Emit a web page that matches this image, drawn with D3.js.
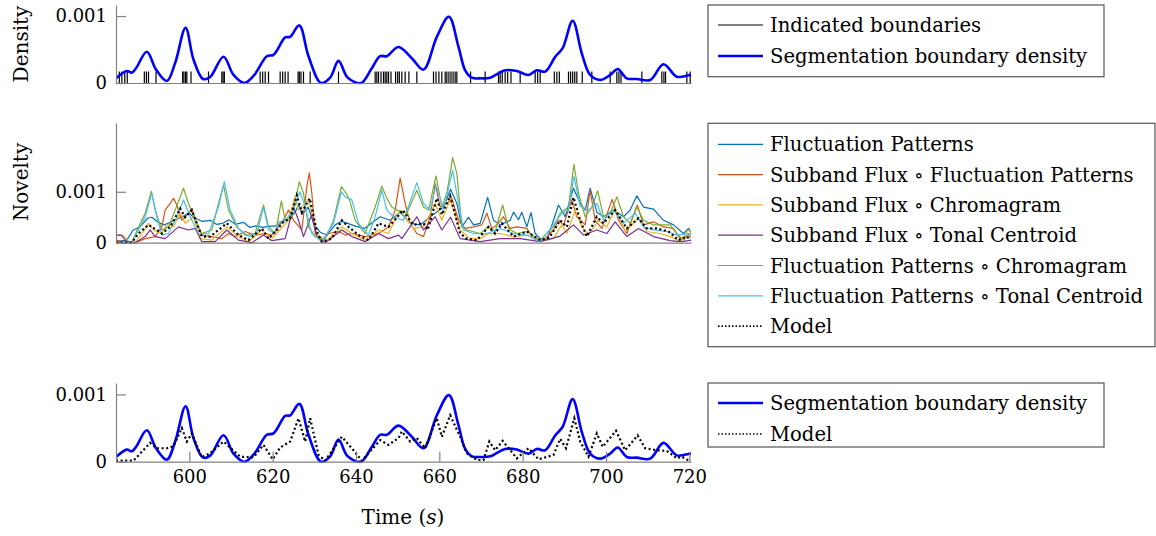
<!DOCTYPE html>
<html>
<head>
<meta charset="utf-8">
<script src="https://cdn.jsdelivr.net/npm/d3@7"></script>
<style>
  body { margin: 0; background: #fff; }
  svg text { font-family: "DejaVu Serif", serif; fill: #000; }
  .axis text { font-size: 18px; font-family: "DejaVu Serif", serif; fill: #000; }
  .legend text { font-size: 19.6px; }
</style>
</head>
<body>
<svg id="chart" width="1156" height="536"></svg>
<script>
// values are in units of 1e-3
var xTicks = [600, 620, 640, 660, 680, 700, 720];
var yTickValues = [0, 1];
var yTickLabels = ["0", "0.001"];

// indicated boundary times (s)
var boundaries = [583.2, 583.8, 584.5, 585.1, 589.2, 589.7, 590.2, 592.0, 598.4, 598.7, 599.1, 599.4,
  600.4, 604.6, 607.8, 608.1, 608.4, 617.0, 617.6, 618.2, 619.0, 621.8, 622.4, 623.0, 623.7,
  626.1, 626.4, 626.8, 627.4, 629.0, 635.8, 644.6, 645.0, 645.4, 646.0, 646.6, 647.0, 647.4,
  647.8, 648.4, 649.5, 650.0, 650.4, 651.0, 651.8, 652.7, 654.6, 658.6, 659.2, 659.9, 660.6,
  661.4, 661.8, 662.3, 662.8, 663.3, 663.8, 664.2, 667.5, 671.0, 674.2, 674.6, 675.1, 675.8,
  676.4, 677.2, 679.4, 683.0, 683.6, 684.2, 687.6, 688.2, 688.8, 691.0, 691.5, 692.0, 692.5,
  693.0, 694.3, 696.6, 701.0, 702.6, 703.1, 703.6, 708.6, 713.4, 713.9, 714.3, 719.4, 720.2];

// segmentation boundary density [time, value]
var density = [[582.4,0.07],[585.0,0.18],[586.2,0.155],[587.2,0.22],[589.8,0.467],[592,0.2],[594.6,0.03],
  [596.6,0.3],[599.1,0.825],[601,0.35],[603.3,0.06],[605,0.09],[608.2,0.393],[610.6,0.12],[613.2,0.0],
  [615.6,0.12],[618.6,0.4],[620.2,0.42],[623,0.68],[624.2,0.69],[626.4,0.86],[628.6,0.4],[631.6,0.0],
  [633.8,0.08],[635.8,0.33],[638,0.08],[641.2,0.0],[643.6,0.2],[645.8,0.40],[647.4,0.40],[650.2,0.537],
  [653.4,0.37],[656.2,0.2],[659.4,0.69],[662.3,0.99],[664.6,0.54],[666.2,0.19],[667.8,0.08],[670,0.07],
  [672.2,0.08],[675.8,0.19],[678.6,0.18],[681.4,0.12],[683.4,0.19],[685.4,0.17],[687.8,0.39],[689.6,0.52],
  [692.0,0.93],[694.2,0.44],[696.2,0.12],[698.6,0.045],[701,0.12],[702.8,0.21],[705,0.07],[707.4,0.06],
  [710.6,0.045],[713.8,0.28],[717,0.094],[719.8,0.115],[720.4,0.12]];

var fluct = [[582.4,0.02],[585,0.05],[586.5,0.25],[588,0.3],[590,0.48],[591,0.5],[592.5,0.4],[594,0.35],
  [596,0.42],[598,0.5],[600,0.58],[601,0.5],[603,0.42],[605,0.44],[606.5,0.36],[608,0.38],[609.5,0.45],
  [611,0.36],[613,0.4],[614.5,0.3],[616,0.33],[617.5,0.3],[619,0.32],[621,0.33],[622.5,0.42],[624,0.45],
  [625.5,0.62],[626.3,0.75],[627,0.55],[628.5,0.7],[630,0.35],[631.5,0.2],[633,0.15],[635,0.35],[636.5,0.42],
  [638,0.38],[640,0.32],[642,0.28],[644,0.4],[645.8,0.51],[648.2,0.44],[650.6,0.6],[653,0.38],[655.4,0.35],
  [657.8,0.51],[661,0.7],[662.7,1.05],[664.2,0.77],[665.4,0.31],[667,0.5],[668.2,0.35],[669.8,0.38],
  [671.6,0.89],[673,0.44],[674.6,0.35],[677,0.44],[677.8,0.6],[679,0.45],[679.8,0.6],[681,0.31],[682,0.59],
  [683,0.18],[684.2,0.08],[685.8,0.05],[687.4,0.44],[688.6,0.74],[690.2,0.51],[692.2,1.07],[693.8,0.77],
  [695,0.64],[696.2,1.07],[697.8,0.6],[699.4,0.51],[701.8,0.64],[704.2,0.51],[705.8,0.64],[707.4,0.92],
  [709,0.7],[711.4,0.66],[713.8,0.44],[716.2,0.35],[718.6,0.18],[719.8,0.28],[720.4,0.2]];

var sfFluct = [[582.4,0.05],[584,0.02],[587,0.0],[589.4,0.08],[591.8,0.12],[593.4,0.31],[594.2,0.64],
  [595.4,0.77],[596.2,0.87],[597,0.74],[598.2,0.44],[599.8,0.57],[600.6,0.67],[601.8,0.38],[603,0.15],
  [605.4,0.12],[607.8,0.08],[609.4,0.18],[611,0.12],[613.4,0.22],[615.8,0.15],[618.2,0.18],[619.8,0.15],
  [621.4,0.31],[622.6,0.45],[623.8,0.64],[625,0.44],[627,0.25],[628.2,1.1],[628.8,1.37],[629.4,0.97],
  [630.2,0.18],[631.8,0.02],[633.4,0.18],[635.8,0.22],[637.4,0.15],[639,0.18],[642.2,0.12],[645.4,0.18],
  [647.8,0.31],[649.4,0.64],[650.6,1.27],[651.8,0.77],[653,0.38],[654.6,0.18],[656.2,0.12],[657.8,0.51],
  [659,1.16],[660.2,0.7],[661.8,0.77],[663,0.87],[664.6,0.44],[666.2,0.28],[668.2,0.31],[670.2,0.35],
  [671.4,0.58],[672.6,0.28],[673.8,0.35],[675.4,0.51],[677,0.28],[678.6,0.31],[681,0.28],[682.6,0.08],
  [685,0.05],[687.4,0.25],[688.6,0.44],[689.8,0.35],[691.8,0.84],[693,0.51],[695,0.35],[696.2,1.03],
  [697.4,0.44],[699,0.28],[701.5,0.85],[703,0.44],[705,0.18],[707.5,0.74],[709,0.35],[711.4,0.41],
  [713.8,0.31],[716.2,0.28],[717.8,0.08],[719.8,0.15],[720.4,0.1]];

var sfChroma = [[582.4,0.15],[584,0.15],[585.5,0.02],[587,0.0],[589,0.22],[590.2,0.38],[591.4,0.25],
  [593.4,0.18],[594.6,0.35],[596.2,0.31],[597.8,0.58],[599,0.38],[601,0.51],[602.6,0.08],[605.4,0.05],
  [609,0.31],[611.8,0.12],[614.2,0.02],[617.4,0.25],[619.8,0.08],[621.4,0.22],[623.8,0.44],[625.3,0.9],
  [626.2,0.64],[628.6,0.84],[630.6,0.18],[632.6,0.02],[636.6,0.31],[639,0.18],[642.2,0.05],[645.4,0.25],
  [647.8,0.18],[648.8,0.35],[650.6,0.64],[653.8,0.28],[656.2,0.31],[659,0.77],[660.6,0.44],[662.6,0.84],
  [665,0.25],[667.4,0.08],[669.8,0.08],[671.8,0.18],[674.6,0.18],[677.8,0.12],[681,0.15],[684.2,0.03],
  [687.4,0.08],[689.4,0.35],[690.6,0.18],[692.6,0.64],[694.2,0.31],[695.8,0.15],[698.2,0.44],[700.2,0.31],
  [702.2,0.67],[704.6,0.22],[707.8,0.48],[709.8,0.22],[713,0.18],[715.4,0.12],[717.8,0.03],[719.8,0.25],
  [720.4,0.2]];

var sfTonal = [[582.4,0.15],[583.6,0.15],[585,0.02],[587,0.0],[589.4,0.12],[590.6,0.25],[591.8,0.12],
  [594.2,0.08],[597.4,0.31],[599.8,0.25],[601.4,0.28],[603,0.02],[606.2,0.02],[609,0.25],[611.8,0.05],
  [615,0.0],[617.8,0.15],[619.8,0.04],[623,0.08],[625,0.7],[626.2,0.44],[627.4,0.12],[629.3,0.54],
  [630.6,0.12],[632.6,0.0],[636.6,0.25],[639,0.12],[642.2,0.02],[645.4,0.18],[647.8,0.08],[650.2,0.15],
  [651,0.08],[654.6,0.51],[656.2,0.25],[659,0.51],[660.6,0.25],[662.7,0.5],[665,0.08],[669.8,0.02],
  [674.6,0.08],[679.4,0.08],[684.2,0.02],[689,0.13],[692.2,0.35],[694.6,0.15],[697.8,0.25],[700.2,0.18],
  [702.2,0.41],[705,0.12],[707.8,0.28],[711.4,0.12],[715.4,0.04],[717.8,0.02],[719.8,0.04],[720.4,0.05]];

var fpChroma = [[582.4,0.0],[586.2,0.0],[587.8,0.31],[589.4,0.58],[590.9,1.01],[591.8,0.64],[593.4,0.25],
  [595,0.31],[596.6,0.64],[598.6,1.07],[599.8,0.77],[601.4,0.44],[603,0.18],[605.4,0.25],[607,0.77],
  [608.2,1.13],[609.4,0.64],[611.4,0.31],[613.4,0.15],[615.8,0.18],[617.8,0.74],[619,0.31],[620.6,0.18],
  [622.1,0.82],[623,0.44],[624.6,0.51],[626.4,1.2],[627.4,0.97],[628.6,0.31],[630.2,0.12],[632.6,0.08],
  [634.6,0.44],[636.5,1.1],[637.4,1.0],[638.4,0.85],[639.8,0.44],[642.2,0.18],[644.6,0.7],[646.2,1.11],
  [647.4,0.87],[648.6,0.7],[649.8,0.64],[652.2,0.58],[654.6,1.03],[656.2,0.7],[657.4,0.64],[659.2,1.31],
  [660.6,0.7],[661.8,0.97],[663.2,1.67],[664.2,1.36],[665.4,0.31],[666.6,0.25],[669.8,0.18],[671.8,0.31],
  [673.4,0.22],[675.2,0.74],[676.6,0.28],[678.6,0.18],[681,0.22],[684.2,0.05],[687.4,0.31],[689,0.58],
  [691,0.7],[692.3,1.54],[693.4,0.97],[695,0.51],[696.6,0.7],[698,1.02],[699.4,0.51],[701,0.58],
  [702.6,0.9],[704.2,0.51],[705.8,0.38],[707.4,0.7],[709,0.44],[711.4,0.35],[713.4,0.35],[715.4,0.35],
  [717,0.18],[718.6,0.05],[719.8,0.15],[720.4,0.2]];

var fpTonal = [[582.4,0.0],[586.2,0.0],[587.8,0.25],[589.4,0.51],[591,0.97],[592.2,0.51],[593.4,0.15],
  [595,0.18],[597,0.51],[598.6,0.84],[600.2,0.51],[602.2,0.18],[604.6,0.18],[607,0.7],[608.4,1.2],
  [609.8,0.64],[611.8,0.28],[614.2,0.12],[616.2,0.18],[617.8,0.7],[619,0.25],[620.6,0.18],[621.4,0.41],
  [623,0.44],[625,0.64],[626.5,1.0],[627.8,0.71],[629.4,0.18],[631.8,0.02],[634.6,0.38],[636.5,1.0],
  [637.4,0.9],[639,0.84],[640.6,0.38],[643,0.15],[644.6,0.51],[646.2,1.03],[647.4,0.64],[649,0.51],
  [651.4,0.44],[654.6,1.18],[656.2,0.77],[657.8,0.64],[659.2,1.13],[661,0.64],[663.2,1.42],[664.6,0.77],
  [665.8,0.25],[668.2,0.18],[671.4,0.18],[674.6,0.28],[677.8,0.18],[681,0.15],[684.2,0.02],[687.4,0.35],
  [689.4,0.58],[691,0.64],[692.3,1.3],[693.8,0.71],[695.8,0.64],[697.8,0.77],[699.4,0.44],[701.8,0.64],
  [704.2,0.38],[707,0.58],[709,0.31],[711.4,0.25],[714.6,0.22],[717,0.15],[719.8,0.18],[720.4,0.15]];

var modelMid = [[582.4,0.0],[586.2,0.0],[587.8,0.18],[590.2,0.35],[592.2,0.25],[593.4,0.18],[595.4,0.31],
  [597.8,0.67],[599,0.5],[600.6,0.64],[603,0.12],[605,0.12],[609,0.38],[611.8,0.15],[614.2,0.05],
  [617.4,0.28],[619,0.08],[621,0.25],[622.6,0.41],[624.2,0.48],[625.8,0.93],[627,0.6],[628.9,0.87],
  [630.6,0.22],[631.8,0.02],[634.2,0.08],[636.6,0.44],[638.2,0.31],[640.6,0.15],[643,0.05],[645.4,0.38],
  [647.8,0.31],[650.4,0.55],[651.2,0.64],[653.8,0.35],[656.2,0.38],[657.2,0.25],[659.4,0.87],[660.6,0.55],
  [662.6,0.92],[665,0.18],[666.6,0.08],[669,0.05],[671.8,0.31],[673.4,0.18],[675,0.38],[677.8,0.12],
  [681,0.22],[684.2,0.05],[686.4,0.1],[689,0.44],[690.6,0.31],[692.2,0.89],[693.8,0.44],[695.4,0.12],
  [697.8,0.51],[699.4,0.38],[702.2,0.64],[705,0.28],[707.8,0.48],[709.8,0.28],[712.2,0.28],[715,0.22],
  [717.4,0.05],[719.4,0.12],[720.4,0.05]];

var modelBottom = [[582.4,0.015],[586.6,0.015],[590.6,0.28],[592.2,0.2],[594.6,0.2],[596.2,0.23],[598.2,0.5],
  [599.4,0.3],[600.6,0.42],[603.0,0.065],[605.0,0.125],[608.2,0.3],[612.2,0.075],[615.4,0.065],[617.8,0.25],
  [620.0,0.035],[621.8,0.21],[624.2,0.3],[626.2,0.645],[627.8,0.3],[629.0,0.645],[631.0,0.1],[632.6,0.015],
  [636.6,0.37],[639.4,0.17],[641.4,0.015],[645.8,0.32],[647.8,0.25],[650.2,0.35],[651.0,0.45],[653.0,0.3],
  [654.6,0.35],[656.6,0.2],[659.4,0.645],[660.6,0.37],[662.6,0.69],[665.0,0.37],[666.6,0.125],[669.0,0.025],
  [670.6,0.025],[672.0,0.3],[673.4,0.17],[675.2,0.31],[678.6,0.05],[681.4,0.2],[683.8,0.035],[687.4,0.1],
  [689.0,0.34],[690.4,0.2],[692.4,0.645],[693.8,0.3],[695.8,0.075],[697.8,0.42],[699.2,0.22],[702.4,0.46],
  [704.6,0.17],[707.6,0.39],[709.4,0.2],[712.2,0.17],[714.6,0.16],[717.0,0.05],[718.2,0.075],[719.4,0.035],
  [720.2,0.0]];

var midSeries = [
  {label: "Fluctuation Patterns", data: fluct, color: "#0072bd"},
  {label: "Subband Flux \u2218 Fluctuation Patterns", data: sfFluct, color: "#d95319"},
  {label: "Subband Flux \u2218 Chromagram", data: sfChroma, color: "#edb120"},
  {label: "Subband Flux \u2218 Tonal Centroid", data: sfTonal, color: "#7e2f8e"},
  {label: "Fluctuation Patterns \u2218 Chromagram", data: fpChroma, color: "#77ac30"},
  {label: "Fluctuation Patterns \u2218 Tonal Centroid", data: fpTonal, color: "#4dbeee"}
];

var svg = d3.select("#chart");
var axisColor = "#808080";

var x = d3.scaleLinear().domain([582.4, 720.4]).range([116, 691]);
var yTop = d3.scaleLinear().domain([0, 1.165]).range([83, 5]);
var yMid = d3.scaleLinear().domain([0, 2.35]).range([242.7, 123]);
var yBot = d3.scaleLinear().domain([0, 1.17]).range([461.7, 383]);

var defs = svg.append("defs");
function clipFor(id, y) {
  defs.append("clipPath").attr("id", id).append("rect")
    .attr("x", x.range()[0]).attr("y", y.range()[1])
    .attr("width", x.range()[1] - x.range()[0])
    .attr("height", y.range()[0] - y.range()[1] + 1.5);
  return "url(#" + id + ")";
}

function drawAxes(y, ticks) {
  svg.append("g").attr("class", "axis").attr("color", axisColor)
    .attr("transform", "translate(" + x.range()[0] + ",0)")
    .call(d3.axisLeft(y).tickValues(yTickValues).tickFormat((d, i) => yTickLabels[i])
      .tickSizeInner(-10).tickSizeOuter(0).tickPadding(9));
  svg.append("g").attr("class", "axis").attr("color", axisColor)
    .attr("transform", "translate(0," + y(0) + ")")
    .call(d3.axisBottom(x).tickValues(ticks).tickFormat(d3.format("d"))
      .tickSizeInner(-10).tickSizeOuter(0).tickPadding(9));
  svg.selectAll(".axis path, .axis line").attr("stroke-width", 1.2);
}

function lineFor(y, curve) {
  return d3.line().x(d => x(d[0])).y(d => y(d[1])).curve(curve || d3.curveLinear);
}

// ---- top panel
var gTop = svg.append("g").attr("clip-path", clipFor("clipTop", yTop));
gTop.selectAll("line.bound").data(boundaries).enter().append("line")
  .attr("x1", d => x(d)).attr("x2", d => x(d))
  .attr("y1", yTop(0)).attr("y2", yTop(0.17))
  .attr("stroke", "#000").attr("stroke-width", 1.2);
gTop.append("path").datum(density)
  .attr("d", lineFor(yTop, d3.curveCatmullRom.alpha(0.5)))
  .attr("fill", "none").attr("stroke", "#0000ff").attr("stroke-width", 2.6);
drawAxes(yTop, []);

// ---- middle panel
var gMid = svg.append("g").attr("clip-path", clipFor("clipMid", yMid));
midSeries.forEach(function(s) {
  gMid.append("path").datum(s.data)
    .attr("d", lineFor(yMid))
    .attr("fill", "none").attr("stroke", s.color).attr("stroke-width", 1.2)
    .attr("stroke-linejoin", "round");
});
gMid.append("path").datum(modelMid)
  .attr("d", lineFor(yMid))
  .attr("fill", "none").attr("stroke", "#000").attr("stroke-width", 2.2)
  .attr("stroke-dasharray", "2,2.6");
drawAxes(yMid, []);

// ---- bottom panel
var gBot = svg.append("g").attr("clip-path", clipFor("clipBot", yBot));
gBot.append("path").datum(density)
  .attr("d", lineFor(yBot, d3.curveCatmullRom.alpha(0.5)))
  .attr("fill", "none").attr("stroke", "#0000ff").attr("stroke-width", 2.6);
gBot.append("path").datum(modelBottom)
  .attr("d", lineFor(yBot))
  .attr("fill", "none").attr("stroke", "#000").attr("stroke-width", 2.2)
  .attr("stroke-dasharray", "2,2.6");
drawAxes(yBot, xTicks);

// ---- axis labels
svg.append("text").attr("transform", "translate(28,44) rotate(-90)")
  .attr("text-anchor", "middle").attr("font-size", 20).text("Density");
svg.append("text").attr("transform", "translate(28,182) rotate(-90)")
  .attr("text-anchor", "middle").attr("font-size", 20).text("Novelty");
var tl = svg.append("text").attr("x", 403).attr("y", 524)
  .attr("text-anchor", "middle").attr("font-size", 20);
tl.append("tspan").text("Time (");
tl.append("tspan").attr("font-style", "italic").text("s");
tl.append("tspan").text(")");

// ---- legends
function drawLegend(x0, y0, w, h, rowStart, rowStep, items) {
  var g = svg.append("g").attr("class", "legend");
  g.append("rect").attr("x", x0).attr("y", y0).attr("width", w).attr("height", h)
    .attr("fill", "#fff").attr("stroke", "#555").attr("stroke-width", 1.2);
  items.forEach(function(it, i) {
    var cy = y0 + rowStart + i * rowStep;
    g.append("line").attr("x1", x0 + 10).attr("x2", x0 + 55).attr("y1", cy).attr("y2", cy)
      .attr("stroke", it.color).attr("stroke-width", it.width)
      .attr("stroke-dasharray", it.dash || null);
    g.append("text").attr("x", x0 + 62).attr("y", cy + 7).text(it.label);
  });
}

drawLegend(708, 5, 396, 71.7, 20, 31, [
  {label: "Indicated boundaries", color: "#000", width: 1},
  {label: "Segmentation boundary density", color: "#0000ff", width: 2.6}
]);
drawLegend(708, 123.3, 447, 223.4, 21, 30.3,
  midSeries.map(s => ({label: s.label, color: s.color, width: 1.2}))
    .concat([{label: "Model", color: "#000", width: 1.6, dash: "1.5,2"}]));
drawLegend(708, 383, 396, 64, 20, 31, [
  {label: "Segmentation boundary density", color: "#0000ff", width: 2.6},
  {label: "Model", color: "#000", width: 1.6, dash: "1.5,2"}
]);
</script>
</body>
</html>
